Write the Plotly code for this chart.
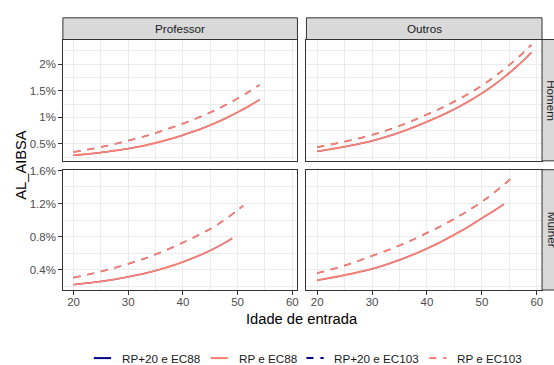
import plotly.graph_objects as go
from plotly.subplots import make_subplots

W, H = 554, 365

# ---------------- data (AL_AIBSA in %) ----------------
# Professor / Homem
ages_prof_homem = [20, 22, 24, 26, 28, 30, 32, 34, 36, 38, 40, 42, 44, 46, 48, 50, 52, 54]
prof_homem_rp_ec88 = [0.284, 0.303, 0.325, 0.350, 0.379, 0.411, 0.449, 0.493, 0.544, 0.601,
                      0.664, 0.734, 0.811, 0.897, 0.991, 1.095, 1.207, 1.330]
prof_homem_rp_ec103 = [0.346, 0.381, 0.419, 0.462, 0.508, 0.559, 0.613, 0.672, 0.737, 0.808,
                       0.881, 0.960, 1.046, 1.140, 1.242, 1.354, 1.476, 1.608]

# Outros / Homem
ages_outros_homem = [20, 22, 24, 26, 28, 30, 32, 34, 36, 38, 40, 42, 44, 46, 48, 50, 52, 54, 56, 58, 59]
outros_homem_rp_ec88 = [0.358, 0.391, 0.427, 0.466, 0.509, 0.556, 0.615, 0.679, 0.751, 0.829,
                        0.917, 1.005, 1.102, 1.208, 1.324, 1.452, 1.595, 1.752, 1.925, 2.115, 2.217]
outros_homem_rp_ec103 = [0.439, 0.478, 0.519, 0.565, 0.614, 0.668, 0.732, 0.802, 0.878, 0.962,
                         1.053, 1.145, 1.245, 1.353, 1.470, 1.598, 1.744, 1.902, 2.073, 2.261, 2.361]

# Professor / Mulher
ages_prof_mulher_ec88 = [20, 22, 24, 26, 28, 30, 32, 34, 36, 38, 40, 42, 44, 46, 48, 49]
prof_mulher_rp_ec88 = [0.218, 0.232, 0.248, 0.266, 0.287, 0.311, 0.338, 0.369, 0.405, 0.446,
                       0.492, 0.543, 0.600, 0.664, 0.737, 0.778]
ages_prof_mulher_ec103 = [20, 22, 24, 26, 28, 30, 32, 34, 36, 38, 40, 42, 44, 46, 48, 50, 51]
prof_mulher_rp_ec103 = [0.302, 0.330, 0.360, 0.393, 0.429, 0.469, 0.511, 0.558, 0.610, 0.666,
                        0.727, 0.789, 0.856, 0.931, 1.021, 1.120, 1.172]

# Outros / Mulher
ages_outros_mulher_ec88 = [20, 22, 24, 26, 28, 30, 32, 34, 36, 38, 40, 42, 44, 46, 48, 50, 52, 54]
outros_mulher_rp_ec88 = [0.270, 0.293, 0.319, 0.346, 0.376, 0.408, 0.448, 0.493, 0.542, 0.595,
                         0.654, 0.717, 0.787, 0.860, 0.937, 1.022, 1.103, 1.190]
ages_outros_mulher_ec103 = [20, 22, 24, 26, 28, 30, 32, 34, 36, 38, 40, 42, 44, 46, 48, 50, 52, 54, 56]
outros_mulher_rp_ec103 = [0.357, 0.391, 0.429, 0.470, 0.516, 0.566, 0.613, 0.664, 0.719, 0.779,
                          0.844, 0.908, 0.978, 1.053, 1.134, 1.221, 1.320, 1.428, 1.543]

# RP+20 series coincide with the RP series (drawn underneath)
prof_homem_rp20_ec88 = prof_homem_rp_ec88
prof_homem_rp20_ec103 = prof_homem_rp_ec103
outros_homem_rp20_ec88 = outros_homem_rp_ec88
outros_homem_rp20_ec103 = outros_homem_rp_ec103
prof_mulher_rp20_ec88 = prof_mulher_rp_ec88
prof_mulher_rp20_ec103 = prof_mulher_rp_ec103
outros_mulher_rp20_ec88 = outros_mulher_rp_ec88
outros_mulher_rp20_ec103 = outros_mulher_rp_ec103

col_labels = ["Professor", "Outros"]
row_labels = ["Homem", "Mulher"]
series_names = ["RP+20 e EC88", "RP e EC88", "RP+20 e EC103", "RP e EC103"]

x_ticks = [20, 30, 40, 50, 60]
x_ticktext = ["20", "30", "40", "50", "60"]
x_minor = [25, 35, 45, 55]
top_ticks = [0.5, 1.0, 1.5, 2.0]
top_ticktext = ["0.5%", "1%", "1.5%", "2%"]
top_minor = [0.25, 0.75, 1.25, 1.75, 2.25]
bot_ticks = [0.4, 0.8, 1.2, 1.6]
bot_ticktext = ["0.4%", "0.8%", "1.2%", "1.6%"]
bot_minor = [0.2, 0.6, 1.0, 1.4]

# ---------------- styles ----------------
BLUE = "#00008B"
SALMON = "#FA8072"
colors = [BLUE, SALMON, BLUE, SALMON]
widths = [1.2, 1.9, 1.2, 1.9]
dashes = ["solid", "solid", "7px,7px", "7px,7px"]
FONT = "Liberation Sans, Arial, sans-serif"

panels = {
    (1, 1): [(ages_prof_homem, prof_homem_rp20_ec88), (ages_prof_homem, prof_homem_rp_ec88),
             (ages_prof_homem, prof_homem_rp20_ec103), (ages_prof_homem, prof_homem_rp_ec103)],
    (1, 2): [(ages_outros_homem, outros_homem_rp20_ec88), (ages_outros_homem, outros_homem_rp_ec88),
             (ages_outros_homem, outros_homem_rp20_ec103), (ages_outros_homem, outros_homem_rp_ec103)],
    (2, 1): [(ages_prof_mulher_ec88, prof_mulher_rp20_ec88), (ages_prof_mulher_ec88, prof_mulher_rp_ec88),
             (ages_prof_mulher_ec103, prof_mulher_rp20_ec103), (ages_prof_mulher_ec103, prof_mulher_rp_ec103)],
    (2, 2): [(ages_outros_mulher_ec88, outros_mulher_rp20_ec88), (ages_outros_mulher_ec88, outros_mulher_rp_ec88),
             (ages_outros_mulher_ec103, outros_mulher_rp20_ec103), (ages_outros_mulher_ec103, outros_mulher_rp_ec103)],
}

fig = make_subplots(rows=2, cols=2)

for (r, c), series in panels.items():
    for i, (xs, ys) in enumerate(series):
        fig.add_trace(go.Scatter(x=xs, y=ys, mode="lines", name=series_names[i],
                                 line=dict(color=colors[i], width=widths[i], dash=dashes[i], shape="spline"),
                                 showlegend=False), row=r, col=c)


def expand(lo, hi, f=0.05):
    d = (hi - lo) * f
    return [lo - d, hi + d]


all_ages = [a for s in panels.values() for xs, _ in s for a in xs]
xr = expand(min(all_ages), max(all_ages))
row_vals = {r: [v for (rr, cc), s in panels.items() if rr == r for _, ys in s for v in ys] for r in (1, 2)}
yr = {r: expand(min(row_vals[r]), max(row_vals[r])) for r in (1, 2)}


def px_x(p):
    return p / W


def px_y(p):
    return 1 - p / H


col_dom = {1: [px_x(63), px_x(298)], 2: [px_x(307), px_x(543)]}
row_dom = {1: [px_y(158), px_y(35)], 2: [px_y(289), px_y(167)]}

axis_common = dict(showline=True, mirror=True, linecolor="#333333", linewidth=1,
                   showgrid=True, gridcolor="#EBEBEB", gridwidth=1.1, zeroline=False,
                   tickfont=dict(family=FONT, size=11.5, color="#4D4D4D"),
                   tickcolor="#333333", tickwidth=1, ticklen=3.7)

for (r, c) in panels:
    idx = (r - 1) * 2 + c
    xname = "xaxis" if idx == 1 else f"xaxis{idx}"
    yname = "yaxis" if idx == 1 else f"yaxis{idx}"
    xa = dict(axis_common, domain=col_dom[c], range=xr, tickvals=x_ticks, ticktext=x_ticktext,
              minor=dict(tickvals=x_minor, showgrid=True, gridcolor="#EBEBEB", gridwidth=0.55, ticks=""),
              ticks="outside" if r == 2 else "", showticklabels=(r == 2), ticklabelstandoff=-3)
    if r == 1:
        ya_t, ya_tt, ya_m = top_ticks, top_ticktext, top_minor
    else:
        ya_t, ya_tt, ya_m = bot_ticks, bot_ticktext, bot_minor
    ya = dict(axis_common, domain=row_dom[r], range=yr[r], tickvals=ya_t, ticktext=ya_tt,
              minor=dict(tickvals=ya_m, showgrid=True, gridcolor="#EBEBEB", gridwidth=0.55, ticks=""),
              ticks="outside" if c == 1 else "", showticklabels=(c == 1))
    fig.layout[xname].update(xa)
    fig.layout[yname].update(ya)

shapes = []
annotations = []
# top strips
for c, lab in zip((1, 2), col_labels):
    x0, x1 = col_dom[c]
    shapes.append(dict(type="rect", xref="paper", yref="paper", x0=x0, x1=x1,
                       y0=px_y(35), y1=px_y(13), fillcolor="#D9D9D9",
                       line=dict(color="#333333", width=1), layer="above"))
    annotations.append(dict(text=lab, xref="paper", yref="paper", x=(x0 + x1) / 2, y=px_y(24),
                            showarrow=False, xanchor="center", yanchor="middle",
                            font=dict(family=FONT, size=11.7, color="#1A1A1A")))
# right strips (cut by the right edge of the image, as in the original)
for r, lab in zip((1, 2), row_labels):
    y0, y1 = row_dom[r]
    shapes.append(dict(type="rect", xref="paper", yref="paper", x0=px_x(543), x1=px_x(565),
                       y0=y0, y1=y1, fillcolor="#D9D9D9",
                       line=dict(color="#333333", width=1), layer="above"))
    annotations.append(dict(text=lab, xref="paper", yref="paper", x=px_x(553), y=(y0 + y1) / 2,
                            showarrow=False, xanchor="center", yanchor="middle", textangle=90,
                            font=dict(family=FONT, size=11.7, color="#1A1A1A")))

# axis titles
annotations.append(dict(text="Idade de entrada", xref="paper", yref="paper", x=px_x(303), y=px_y(318),
                        showarrow=False, xanchor="center", yanchor="middle",
                        font=dict(family=FONT, size=14.7, color="#000000")))
annotations.append(dict(text="AL_AIBSA", xref="paper", yref="paper", x=px_x(21), y=px_y(162),
                        showarrow=False, xanchor="center", yanchor="middle", textangle=-90,
                        font=dict(family=FONT, size=14.7, color="#000000")))

# legend (bottom)
key_starts = [94, 211, 307, 430]
ly = px_y(358)
for ks, name, colr, dsh in zip(key_starts, series_names, colors, dashes):
    shapes.append(dict(type="line", xref="paper", yref="paper", x0=px_x(ks), x1=px_x(ks + 17.3),
                       y0=ly, y1=ly, line=dict(color=colr, width=2, dash=dsh)))
    annotations.append(dict(text=name, xref="paper", yref="paper", x=px_x(ks + 26), y=ly,
                            showarrow=False, xanchor="left", yanchor="middle",
                            font=dict(family=FONT, size=11.7, color="#1A1A1A")))

fig.update_layout(width=W, height=H, margin=dict(l=0, r=0, t=0, b=0),
                  paper_bgcolor="white", plot_bgcolor="white",
                  shapes=shapes, annotations=annotations, showlegend=False,
                  font=dict(family=FONT))

fig.write_html("out.html", config={"displayModeBar": False},
               post_script="document.body.style.margin='0';document.body.style.padding='0';"
                           "document.body.style.overflow='hidden';")
